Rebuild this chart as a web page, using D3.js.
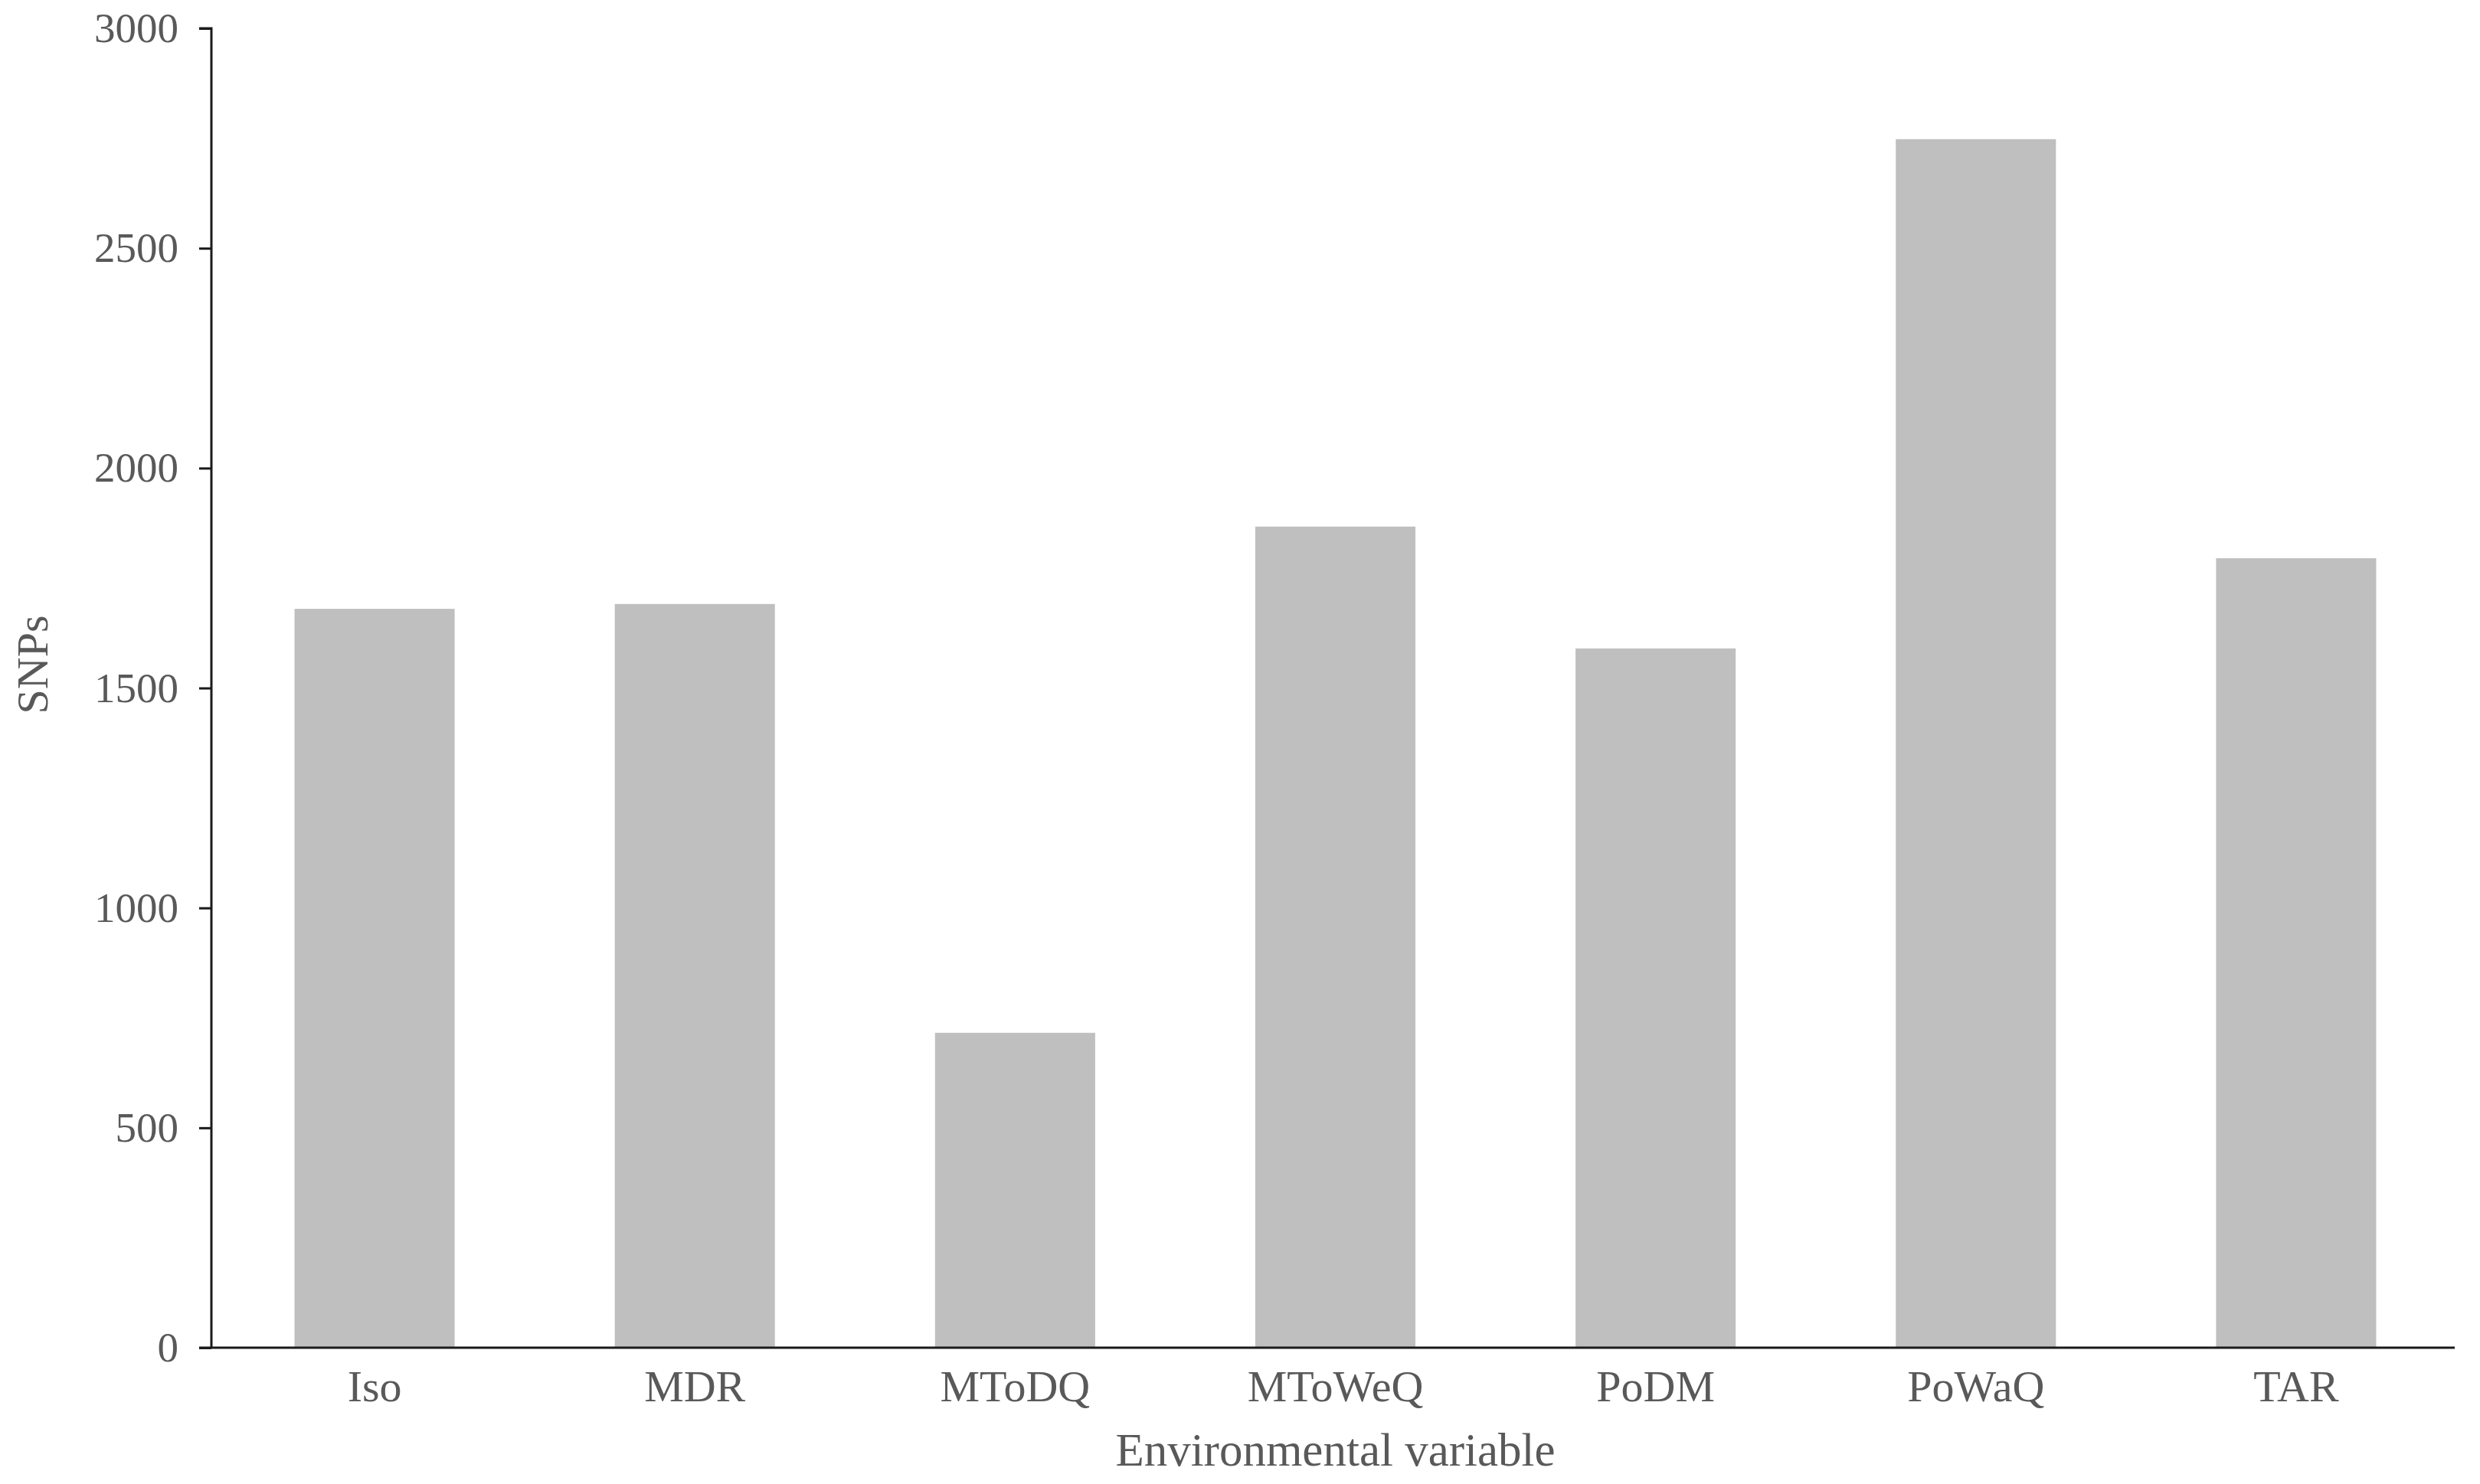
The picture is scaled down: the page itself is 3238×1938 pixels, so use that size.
<!DOCTYPE html>
<html lang="en">
<head>
    <meta charset="utf-8" />
    <title>SNPs by environmental variable</title>
    <script src="https://d3js.org/d3.v7.min.js"></script>
    <style>
        body { margin: 0; background: #fff; }
        svg text { font-family: "Liberation Serif", "Times New Roman", serif; fill: #595959; }
    </style>
</head>
<body>
    <script>
        // data
        const variables = ["Iso", "MDR", "MToDQ", "MToWeQ", "PoDM", "PoWaQ", "TAR"];
        const snps = [1680, 1691, 716, 1867, 1590, 2748, 1795];
        const yTicks = [0, 500, 1000, 1500, 2000, 2500, 3000];

        const width = 3238, height = 1938;
        const margin = { top: 37, right: 33, bottom: 178, left: 276 };

        const svg = d3.select("body")
            .append("svg")
            .attr("width", width)
            .attr("height", height);

        // x scale: one band per variable, bar is half of the band
        const xScale = d3.scaleBand()
            .domain(variables)
            .range([margin.left + 4, width - margin.right + 2])
            .paddingInner(0.5)
            .paddingOuter(0.25);

        const yScale = d3.scaleLinear()
            .domain([0, 3000])
            .range([height - margin.bottom, margin.top]);

        // bars
        svg.selectAll("rect.bar")
            .data(variables)
            .enter()
            .append("rect")
            .attr("class", "bar")
            .attr("x", d => xScale(d))
            .attr("y", (d, i) => yScale(snps[i]))
            .attr("width", xScale.bandwidth())
            .attr("height", (d, i) => yScale(0) - yScale(snps[i]))
            .attr("fill", "#bfbfbf");

        // y axis
        const yAxis = d3.axisLeft(yScale)
            .tickValues(yTicks)
            .tickSize(16)
            .tickPadding(27)
            .tickFormat(d3.format("d"));

        const gy = svg.append("g")
            .attr("transform", "translate(" + margin.left + ",0)")
            .call(yAxis);
        gy.select(".domain").attr("stroke", "#1a1a1a").attr("stroke-width", 3).attr("d", "M-16," + yScale(3000) + "H0V" + yScale(0));
        gy.selectAll(".tick line").attr("stroke", "#1a1a1a").attr("stroke-width", 3);
        gy.selectAll(".tick text").attr("font-size", 55).attr("fill", "#595959");

        // x axis
        const xAxis = d3.axisBottom(xScale)
            .tickSize(0)
            .tickPadding(29);

        const gx = svg.append("g")
            .attr("transform", "translate(0," + yScale(0) + ")")
            .call(xAxis);
        gx.select(".domain").attr("stroke", "#1a1a1a").attr("stroke-width", 3)
            .attr("d", "M" + (margin.left - 16) + ",0H" + (width - margin.right));
        gx.selectAll(".tick text").attr("font-size", 58).attr("fill", "#595959");

        // axis titles
        svg.append("text")
            .attr("x", (margin.left + width - margin.right) / 2 + 3)
            .attr("y", 1914)
            .attr("text-anchor", "middle")
            .attr("font-size", 61)
            .text("Environmental variable");

        svg.append("text")
            .attr("transform", "translate(62,868) rotate(-90)")
            .attr("text-anchor", "middle")
            .attr("font-size", 58)
            .text("SNPs");
    </script>
</body>
</html>
